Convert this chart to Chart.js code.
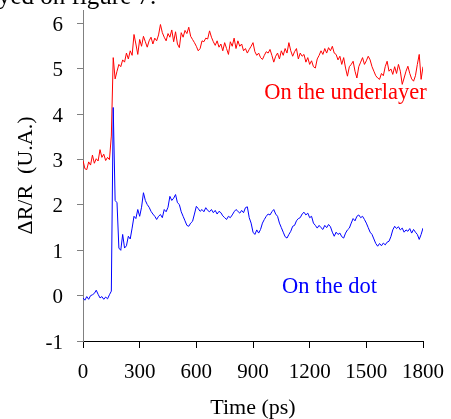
<!DOCTYPE html>
<html>
<head>
<meta charset="utf-8">
<script src="https://cdn.jsdelivr.net/npm/chart.js@4.4.1/dist/chart.umd.min.js"></script>
<style>
  html, body { margin: 0; padding: 0; background: #fff; }
  #wrap { width: 451px; height: 419px; }
</style>
</head>
<body>
<div id="wrap"><canvas id="chart" width="451" height="419"></canvas></div>
<script>
// time axis, one sample every 10 ps
const times = Array.from({ length: 181 }, (_, i) => i * 10)

// t = 0, 10, 20 ... 1800 ps
const underlayer = [
  2.98, 2.80, 2.78, 2.95, 2.88, 3.10, 2.92, 3.02, 2.97, 3.22,
  3.05, 3.12, 2.98, 3.05, 3.00, 3.52, 5.25, 4.78, 4.95, 5.10,
  5.05, 5.20, 5.15, 5.35, 5.22, 5.40, 5.30, 5.76, 5.55, 5.32,
  5.65, 5.50, 5.72, 5.60, 5.48, 5.62, 5.70, 5.55, 5.68, 5.62,
  5.75, 5.98, 5.80, 5.70, 5.62, 5.78, 5.70, 5.86, 5.60, 5.82,
  5.55, 5.47, 5.80, 5.70, 5.85, 5.78, 5.92, 5.72, 5.65, 5.58,
  5.50, 5.40, 5.45, 5.62, 5.60, 5.68, 5.66, 5.84, 5.70, 5.60,
  5.52, 5.62, 5.48, 5.55, 5.40, 5.58, 5.45, 5.32, 5.60, 5.50,
  5.68, 5.45, 5.62, 5.50, 5.55, 5.40, 5.45, 5.35, 5.43, 5.50,
  5.58, 5.38, 5.30, 5.35, 5.25, 5.21, 5.30, 5.38, 5.35, 5.43,
  5.30, 5.15, 5.28, 5.35, 5.22, 5.40, 5.30, 5.45, 5.35, 5.58,
  5.40, 5.28, 5.38, 5.45, 5.22, 5.35, 5.28, 5.32, 5.15, 5.25,
  5.10, 5.18, 5.05, 5.02, 5.22, 5.30, 5.40, 5.32, 5.45, 5.35,
  5.47, 5.40, 5.50, 5.35, 5.32, 5.20, 5.28, 5.10, 5.25, 5.02,
  4.84, 5.05, 5.10, 5.17, 4.95, 4.80, 5.05, 5.15, 5.25, 5.10,
  5.18, 5.28, 5.20, 5.05, 4.95, 4.85, 4.80, 4.77, 4.90, 4.85,
  5.05, 5.17, 4.95, 5.00, 4.88, 5.05, 4.90, 5.10, 4.95, 4.66,
  4.80, 4.95, 5.06, 4.90, 4.78, 4.73, 4.85, 5.10, 5.32, 4.77,
  5.05,
]

const dot = [
  -0.05, -0.10, -0.02, -0.08, 0.00, 0.02, 0.05, 0.12, 0.03, -0.05,
  -0.02, -0.08, -0.03, -0.07, 0.02, 0.10, 4.15, 2.10, 2.05, 1.05,
  1.00, 1.35, 1.05, 1.10, 1.31, 1.25, 1.49, 1.75, 1.70, 1.90,
  1.75, 1.95, 2.27, 2.10, 2.01, 1.95, 1.86, 1.80, 1.75, 1.68,
  1.75, 1.79, 1.72, 1.90, 1.85, 1.95, 2.19, 2.10, 2.15, 2.23,
  2.05, 2.01, 1.85, 1.75, 1.65, 1.55, 1.53, 1.60, 1.64, 1.80,
  1.97, 1.92, 1.86, 1.90, 1.85, 1.94, 1.88, 1.85, 1.90, 1.83,
  1.88, 1.80, 1.86, 1.83, 1.76, 1.72, 1.68, 1.75, 1.72, 1.78,
  1.85, 1.90, 1.86, 1.82, 1.88, 1.83, 1.94, 1.96, 1.72, 1.60,
  1.40, 1.35, 1.45, 1.38, 1.46, 1.60, 1.68, 1.75, 1.80, 1.78,
  1.85, 1.90, 1.80, 1.75, 1.60, 1.50, 1.40, 1.30, 1.27, 1.35,
  1.42, 1.53, 1.55, 1.65, 1.70, 1.72, 1.80, 1.84, 1.78, 1.82,
  1.72, 1.75, 1.60, 1.55, 1.49, 1.55, 1.50, 1.46, 1.55, 1.50,
  1.57, 1.52, 1.40, 1.31, 1.40, 1.35, 1.38, 1.30, 1.27, 1.38,
  1.45, 1.49, 1.60, 1.70, 1.65, 1.75, 1.78, 1.72, 1.75, 1.68,
  1.60, 1.50, 1.40, 1.35, 1.25, 1.15, 1.09, 1.15, 1.10, 1.16,
  1.12, 1.18, 1.20, 1.30, 1.45, 1.53, 1.48, 1.52, 1.45, 1.49,
  1.40, 1.45, 1.42, 1.48, 1.38, 1.46, 1.40, 1.35, 1.24, 1.35,
  1.49,
]

const yTicks = [-1, 0, 1, 2, 3, 4, 5, 6]

const SERIF = "'Times New Roman', 'Liberation Serif', serif"

// curve names written next to the traces, plus the cut-off line of body text at the top
const curveLabels = {
  id: 'curveLabels',
  afterDatasetsDraw(chart) {
    const { ctx, scales: { x, y } } = chart
    ctx.save()
    ctx.font = `22.5px ${SERIF}`
    ctx.textBaseline = 'middle'
    ctx.fillStyle = '#ff0000'
    ctx.textAlign = 'right'
    ctx.fillText('On the underlayer', x.getPixelForValue(1820), y.getPixelForValue(4.46))
    ctx.fillStyle = '#0000ff'
    ctx.textAlign = 'left'
    ctx.fillText('On the dot', x.getPixelForValue(1054), y.getPixelForValue(0.18))

    ctx.fillStyle = '#000'
    ctx.font = `25px ${SERIF}`
    ctx.textBaseline = 'alphabetic'
    ctx.fillText('yed on figure 7.', -2, 4)
    ctx.restore()
  },
}

new Chart(document.getElementById('chart'), {
  type: 'line',
  data: {
    datasets: [
      {
        label: 'On the dot',
        data: times.map((t, i) => ({ x: t, y: dot[i] })),
        borderColor: '#0000ff',
        borderWidth: 1,
        pointRadius: 0,
        tension: 0,
      },
      {
        label: 'On the underlayer',
        data: times.map((t, i) => ({ x: t, y: underlayer[i] })),
        borderColor: '#ff0000',
        borderWidth: 1,
        pointRadius: 0,
        tension: 0,
      },
    ],
  },
  options: {
    responsive: false,
    animation: false,
    layout: { padding: { top: 10, right: 28, left: 0, bottom: 0 } },
    plugins: {
      legend: { display: false },
      tooltip: { enabled: false },
    },
    scales: {
      x: {
        type: 'linear',
        min: 0,
        max: 1800,
        afterFit: (s) => {
          s.height = 78
          s.paddingLeft = 0
          s.paddingRight = 0
        },
        ticks: {
          stepSize: 300,
          color: '#000',
          padding: 12,
          font: { family: SERIF, size: 21 },
          callback: (v) => String(v),
        },
        grid: { drawOnChartArea: false, drawTicks: true, tickLength: 7, color: '#000' },
        border: { color: '#000', width: 1 },
        title: {
          display: true,
          text: 'Time (ps)',
          color: '#000',
          font: { family: SERIF, size: 22 },
          padding: { top: 0, bottom: -2 },
        },
      },
      y: {
        type: 'linear',
        min: -1,
        max: 6.3,
        afterFit: (s) => {
          s.width = 83
          s.paddingTop = 0
          s.paddingBottom = 0
        },
        afterBuildTicks: (s) => { s.ticks = yTicks.map((v) => ({ value: v })) },
        ticks: {
          color: '#000',
          padding: 14,
          labelOffset: 2,
          font: { family: SERIF, size: 21 },
          callback: (v) => String(v),
        },
        grid: { drawOnChartArea: false, drawTicks: true, tickLength: 6, color: '#808080' },
        border: { color: '#808080', width: 1 },
        title: {
          display: true,
          text: 'ΔR/R  (U.A.)',
          color: '#000',
          font: { family: SERIF, size: 22 },
          padding: { top: 13, bottom: 0 },
        },
      },
    },
  },
  plugins: [curveLabels],
})
</script>
</body>
</html>
